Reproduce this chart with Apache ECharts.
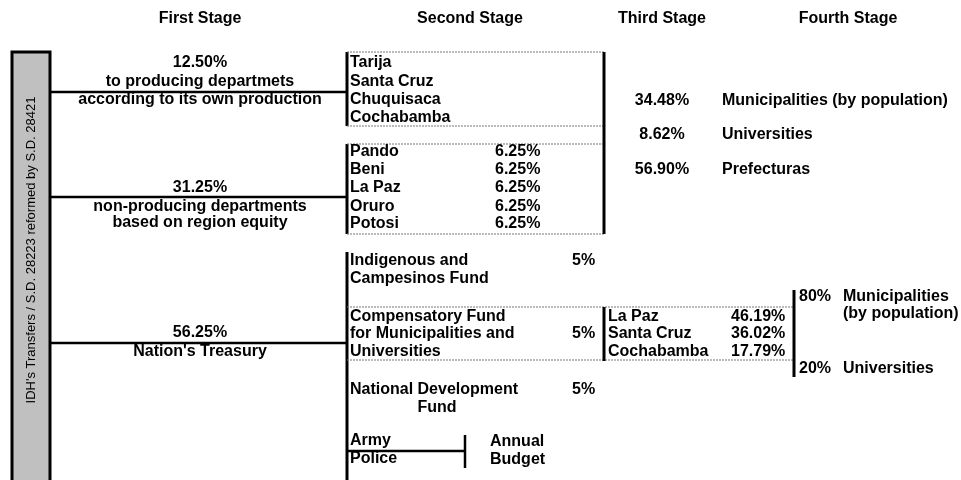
<!DOCTYPE html>
<html>
<head>
<meta charset="utf-8">
<script src="https://cdn.jsdelivr.net/npm/echarts@6/dist/echarts.min.js"></script>
<style>
  html, body { margin: 0; padding: 0; background: #fff; }
  #chart { width: 961px; height: 480px; }
</style>
</head>
<body>
<div id="chart"></div>
<script>
// labels and shares
var stages = ['First Stage', 'Second Stage', 'Third Stage', 'Fourth Stage']
var sideTitle = "IDH's Transfers / S.D. 28223 reformed by S.D. 28421"

var firstShares = ['12.50%', '31.25%', '56.25%']
var firstLabels = [
    ['to producing departmets', 'according to its own production'],
    ['non-producing departments', 'based on region equity'],
    ["Nation's Treasury"]
]

var producingDepts = ['Tarija', 'Santa Cruz', 'Chuquisaca', 'Cochabamba']
var equityDepts = ['Pando', 'Beni', 'La Paz', 'Oruro', 'Potosi']
var equityShares = ['6.25%', '6.25%', '6.25%', '6.25%', '6.25%']

var deptShares = ['34.48%', '8.62%', '56.90%']
var deptTargets = ['Municipalities (by population)', 'Universities', 'Prefecturas']

var funds = [
    ['Indigenous and', 'Campesinos Fund'],
    ['Compensatory Fund', 'for Municipalities and', 'Universities'],
    ['National Development', 'Fund']
]
var fundShares = ['5%', '5%', '5%']

var compDepts = ['La Paz', 'Santa Cruz', 'Cochabamba']
var compShares = ['46.19%', '36.02%', '17.79%']

var fourthShares = ['80%', '20%']
var fourthTargets = [['Municipalities', '(by population)'], ['Universities']]

var budgetItems = ['Army', 'Police']
var budgetLabel = ['Annual', 'Budget']

var bold = 'bold 16px "Liberation Sans", Arial, sans-serif'
var thin = '13px "Liberation Sans", Arial, sans-serif'

var texts = []
var segs = []

var put = function (x, y, s, align) {
    texts.push({ x: x, y: y, s: s, align: align || 'left' })
}
var seg = function (x1, y1, x2, y2, w, dash) {
    segs.push({ p: [x1, y1, x2, y2], w: w, dash: dash })
}

// headers
var stageX = [200, 470, 662, 848]
stages.forEach(function (s, i) { put(stageX[i], 19, s, 'center') })

// first stage branches
var branchY = [92, 197, 343]
var firstRows = [[63, 82, 100], [188, 207, 223], [333, 352]]
firstShares.forEach(function (s, i) {
    seg(50, branchY[i], 347, branchY[i], 2.5)
    put(200, firstRows[i][0], s, 'center')
    firstLabels[i].forEach(function (l, j) { put(200, firstRows[i][j + 1], l, 'center') })
})

// second stage, producing departments
seg(347, 52, 347, 126, 3)
seg(347, 52, 604, 52, 1, [2, 1])
seg(347, 126, 604, 126, 1, [2, 1])
producingDepts.forEach(function (d, i) { put(350, 63 + i * 18.3, d) })

// second stage, non-producing departments
seg(347, 144, 347, 234, 3)
seg(347, 144, 604, 144, 1, [2, 1])
seg(347, 234, 604, 234, 1, [2, 1])
var equityRows = [152, 170, 188, 207, 224]
equityDepts.forEach(function (d, i) {
    put(350, equityRows[i], d)
    put(495, equityRows[i], equityShares[i])
})
seg(604, 52, 604, 234, 3)

// third stage for departments
var deptRows = [101, 135, 170]
deptShares.forEach(function (s, i) {
    put(662, deptRows[i], s, 'center')
    put(722, deptRows[i], deptTargets[i])
})

// treasury funds
seg(347, 252, 347, 480, 3)
var fundRows = [[261, 279], [317, 334, 352], [390, 408]]
funds.forEach(function (f, i) {
    f.forEach(function (l, j) {
        if (i === 2 && j === 1) put(437, fundRows[i][j], l, 'center')
        else put(350, fundRows[i][j], l)
    })
    put(572, fundRows[i][i === 1 ? 1 : 0], fundShares[i])
})
seg(347, 307, 794, 307, 1, [2, 1])
seg(347, 360, 794, 360, 1, [2, 1])
seg(604, 307, 604, 361, 3)
compDepts.forEach(function (d, i) {
    put(608, fundRows[1][i], d)
    put(731, fundRows[1][i], compShares[i])
})

// fourth stage
seg(794, 290, 794, 377, 3)
put(799, 297, fourthShares[0])
put(843, 297, fourthTargets[0][0])
put(843, 314, fourthTargets[0][1])
put(799, 369, fourthShares[1])
put(843, 369, fourthTargets[1][0])

// army and police
var budgetRows = [441, 459]
budgetItems.forEach(function (b, i) { put(350, budgetRows[i], b) })
seg(347, 451, 465, 451, 2.5)
seg(465, 435, 465, 468, 2.5)
budgetLabel.forEach(function (b, i) { put(490, budgetRows[i] + 1, b) })

var chart = echarts.init(document.getElementById('chart'))

var option = {
    animation: false,
    backgroundColor: '#fff',
    grid: { left: 0, right: 0, top: 0, bottom: 0 },
    xAxis: { type: 'value', min: 0, max: 961, show: false },
    yAxis: { type: 'value', min: 0, max: 480, inverse: true, show: false },
    series: [
        {
            // side box
            type: 'custom',
            clip: false,
            data: [[12, 52]],
            renderItem: function (params, api) {
                var p = api.coord([api.value(0), api.value(1)])
                return {
                    type: 'group',
                    children: [
                        {
                            type: 'rect',
                            shape: { x: p[0], y: p[1], width: 38, height: 440 },
                            style: { fill: '#c0c0c0', stroke: '#000', lineWidth: 3 }
                        },
                        {
                            type: 'text',
                            x: p[0] + 19,
                            y: 250,
                            rotation: Math.PI / 2,
                            style: {
                                text: sideTitle, font: thin, fill: '#000',
                                align: 'center', verticalAlign: 'middle'
                            }
                        }
                    ]
                }
            }
        },
        {
            type: 'custom',
            clip: false,
            data: segs.map(function (s) { return s.p }),
            renderItem: function (params, api) {
                var s = segs[params.dataIndex]
                var a = api.coord([s.p[0], s.p[1]])
                var b = api.coord([s.p[2], s.p[3]])
                return {
                    type: 'line',
                    shape: { x1: a[0], y1: a[1], x2: b[0], y2: b[1] },
                    style: {
                        stroke: s.dash ? '#777' : '#000',
                        lineWidth: s.w,
                        lineDash: s.dash || null
                    }
                }
            }
        },
        {
            type: 'custom',
            clip: false,
            data: texts.map(function (t) { return [t.x, t.y] }),
            renderItem: function (params, api) {
                var t = texts[params.dataIndex]
                var p = api.coord([t.x, t.y])
                return {
                    type: 'text',
                    x: p[0],
                    y: p[1],
                    style: {
                        text: t.s, font: bold, fill: '#000',
                        align: t.align, verticalAlign: 'middle'
                    }
                }
            }
        }
    ]
}

chart.setOption(option)
</script>
</body>
</html>
